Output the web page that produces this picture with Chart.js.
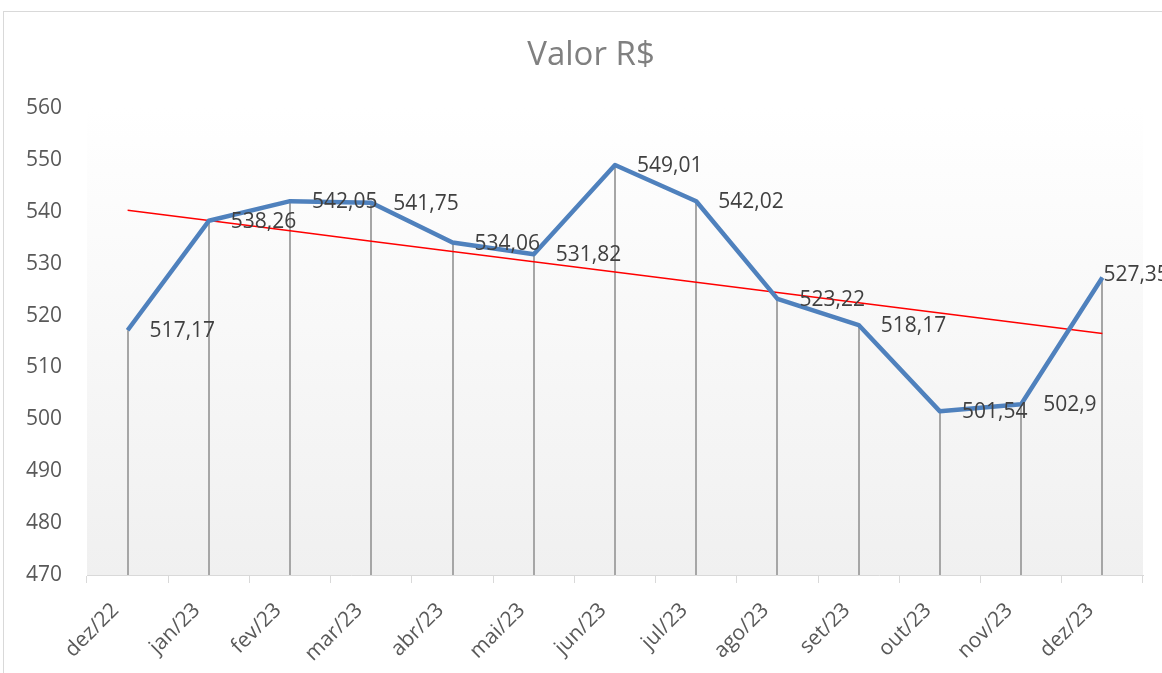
<!DOCTYPE html>
<html>
<head>
<meta charset="utf-8">
<script src="https://cdn.jsdelivr.net/npm/chart.js@4"></script>
<style>
  html, body { margin: 0; padding: 0; overflow: hidden; background: #fff; }
  #box { position: absolute; left: 3px; top: 11px; width: 1174px; height: 661px; border: 1px solid #d9d9d9; }
</style>
</head>
<body>
<div id="box"><canvas id="my-chart" width="1174" height="661"></canvas></div>
<script>
'use strict';

// Data
let chartTitle = 'Valor R$';
let months = ['dez/22', 'jan/23', 'fev/23', 'mar/23', 'abr/23', 'mai/23', 'jun/23',
  'jul/23', 'ago/23', 'set/23', 'out/23', 'nov/23', 'dez/23'];
let valores = [517.17, 538.26, 542.05, 541.75, 534.06, 531.82, 549.01,
  542.02, 523.22, 518.17, 501.54, 502.9, 527.35];
let yTicks = [470, 480, 490, 500, 510, 520, 530, 540, 550, 560];

// linear trendline (least squares over the values)
function trendline(values) {
  let n = values.length;
  let sx = 0, sy = 0, sxy = 0, sxx = 0;
  for (let i = 0; i < n; i++) {
    sx += i; sy += values[i]; sxy += i * values[i]; sxx += i * i;
  }
  let b = (n * sxy - sx * sy) / (n * sxx - sx * sx);
  let a = (sy - b * sx) / n;
  let out = [];
  for (let i = 0; i < n; i++) out.push(a + b * i);
  return out;
}
let tendencia = trendline(valores);

let ctx = document.getElementById('my-chart');

// plot area background + drop lines
let plotBg = {
  id: 'plotBg',
  beforeDatasetsDraw(chart) {
    let c = chart.ctx;
    let area = chart.chartArea;
    let g = c.createLinearGradient(0, area.top, 0, area.bottom);
    g.addColorStop(0, '#ffffff');
    g.addColorStop(1, '#f0f0f0');
    c.save();
    c.fillStyle = g;
    c.fillRect(area.left, area.top, area.right - area.left, area.bottom - area.top);
    // drop lines
    let meta = chart.getDatasetMeta(0);
    c.strokeStyle = '#a6a6a6';
    c.lineWidth = 2;
    meta.data.forEach(function (pt) {
      c.beginPath();
      c.moveTo(Math.round(pt.x), pt.y);
      c.lineTo(Math.round(pt.x), area.bottom);
      c.stroke();
    });
    c.restore();
  }
};

// title centred on the whole chart box
let titleText = {
  id: 'titleText',
  afterDraw(chart) {
    let c = chart.ctx;
    c.save();
    c.font = '33px "Open Sans"';
    c.fillStyle = '#808080';
    c.textAlign = 'center';
    c.textBaseline = 'middle';
    c.fillText(chartTitle, chart.width / 2, 44);
    c.restore();
  }
};

// value labels right of each point
let valueLabels = {
  id: 'valueLabels',
  afterDatasetsDraw(chart) {
    let c = chart.ctx;
    let meta = chart.getDatasetMeta(0);
    c.save();
    c.font = '21px "Open Sans"';
    c.fillStyle = '#404040';
    c.textAlign = 'left';
    c.textBaseline = 'middle';
    meta.data.forEach(function (pt, i) {
      let last = i === meta.data.length - 1;
      let dx = last ? 1 : 22;
      let dy = last ? -2 : 1;
      c.fillText(String(valores[i]).replace('.', ','), pt.x + dx, pt.y + dy);
    });
    c.restore();
  }
};

let chartObject = {
  type: 'line',
  data: {
    labels: months,
    datasets: [{
      label: 'Valor R$',
      data: valores,
      borderColor: '#4f81bd',
      borderWidth: 4.5,
      pointRadius: 0,
      tension: 0,
      borderJoinStyle: 'round'
    },
    {
      label: 'Tendência',
      data: tendencia,
      borderColor: '#ff0000',
      borderWidth: 1.5,
      pointRadius: 0,
      tension: 0
    }]
  },
  options: {
    responsive: false,
    animation: false,
    layout: { padding: { left: 0, right: 35, top: 96, bottom: 0 } },
    plugins: {
      legend: { display: false },
      tooltip: { enabled: false },
      title: { display: false }
    },
    scales: {
      x: {
        offset: true,
        grid: { offset: true, drawOnChartArea: false, color: '#d9d9d9', tickLength: 8, lineWidth: 1 },
        border: { color: '#d9d9d9', width: 1 },
        ticks: {
          color: '#595959',
          font: { family: 'Open Sans', size: 21 },
          minRotation: 45,
          maxRotation: 45,
          padding: 15,
          labelOffset: -12,
          autoSkip: false
        },
        afterFit(scale) { scale.height = 98; }
      },
      y: {
        min: 470,
        max: 560,
        afterBuildTicks(scale) { scale.ticks = yTicks.map(v => ({ value: v })); },
        grid: { display: false, drawTicks: false },
        border: { display: false },
        ticks: {
          color: '#595959',
          font: { family: 'Open Sans', size: 21 },
          padding: 25
        },
        afterFit(scale) { scale.width = 83; }
      }
    }
  },
  plugins: [plotBg, valueLabels, titleText]
};

const productChart = new Chart(ctx, chartObject);
</script>
</body>
</html>
